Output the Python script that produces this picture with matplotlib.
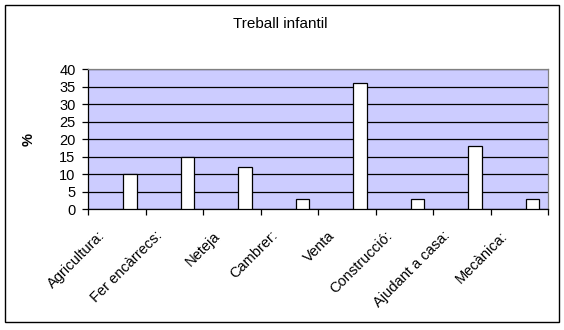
import numpy as np
import matplotlib.pyplot as plt
from matplotlib.patches import Rectangle
from matplotlib.transforms import ScaledTranslation

categories = ['Agricultura:', 'Fer encàrrecs:', 'Neteja', 'Cambrer:', 'Venta',
              'Construcció:', 'Ajudant a casa:', 'Mecànica:']
values = [10, 15, 12, 3, 36, 3, 18, 3]
y_ticks = [0, 5, 10, 15, 20, 25, 30, 35, 40]

plt.rcParams['font.family'] = ['Liberation Sans', 'DejaVu Sans']

fig = plt.figure(figsize=(5.64, 3.30), dpi=100)
W, H = 564, 330
ax = fig.add_axes([88 / W, (H - 209.3) / H, (548 - 88) / W, (209.3 - 69.3) / H])
ax.set_facecolor('#ccccff')

# outer chart frame
fig.patches.append(Rectangle((5 / W, (H - 322) / H), 554 / W, 317 / H,
                             transform=fig.transFigure, fill=False,
                             edgecolor='black', lw=1.0))

x = np.arange(len(categories))
ax.set_axisbelow(True)
ax.grid(axis='y', color='black', lw=0.9)
ax.bar(x + 0.229, values, width=0.231, color='white', edgecolor='black', lw=0.9, zorder=3)

ax.set_xlim(-0.5, len(categories) - 0.5)
ax.set_ylim(0, 40)
ax.set_yticks(y_ticks)
ax.set_yticklabels([str(v) for v in y_ticks], fontsize=10.5)
ax.tick_params(axis='y', length=4, width=0.9, pad=5, direction='out')

ax.set_xticks(np.arange(len(categories) + 1) - 0.5)
ax.set_xticklabels([])
ax.tick_params(axis='x', length=4, width=0.9, direction='out')

# rotated category labels, ending a little left of the category centre
offset = ScaledTranslation(-10 / 72, -17.5 / 72, fig.dpi_scale_trans)
for xi, lab in zip(x, categories):
    ax.text(xi, 0, lab, transform=ax.get_xaxis_transform() + offset,
            rotation=45, rotation_mode='anchor', ha='right', va='center',
            fontsize=10.5)

for s in ['left', 'bottom']:
    ax.spines[s].set_color('black')
    ax.spines[s].set_linewidth(0.9)
for s in ['top', 'right']:
    ax.spines[s].set_color('#808080')
    ax.spines[s].set_linewidth(0.9)

fig.text(280 / W, (H - 24) / H, 'Treball infantil', ha='center', va='center', fontsize=11)
fig.text(29 / W, (H - 139) / H, '%', rotation=90, ha='center', va='center',
         fontsize=10.5, fontweight='bold')

fig.savefig('out.png', dpi=100)
